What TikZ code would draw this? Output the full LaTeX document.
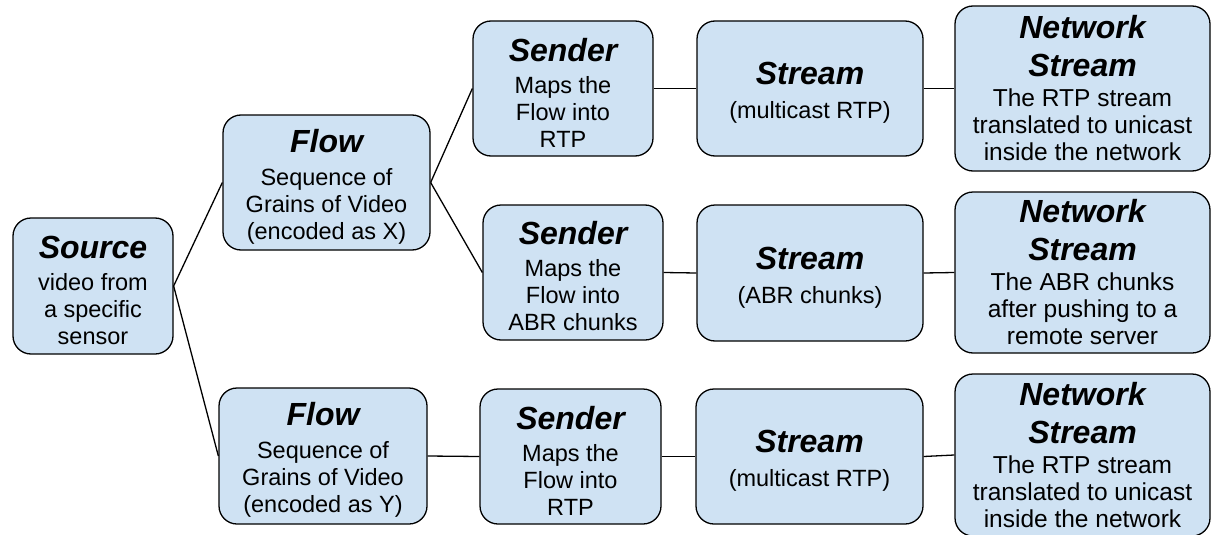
\documentclass[tikz,border=0pt]{standalone}
\usepackage{fontspec}
\setmainfont{Liberation Sans}
\definecolor{boxfill}{HTML}{CFE2F3}
\tikzset{
  box/.style={draw=black, line width=1.3pt, fill=boxfill, rounded corners=18pt,
    align=center, inner sep=0pt, font=\fontsize{23.5}{27}\selectfont},
  netbox/.style={box, font=\fontsize{24.5}{27}\selectfont},
  link/.style={draw=black, line width=1.3pt},
}
% bold italic heading; the strut keeps a little air above the first line
\newcommand{\ttl}[1]{{\fontsize{32}{36}\selectfont\bfseries\itshape\rule{0pt}{31pt}#1}}
\newcommand{\ttlb}[1]{{\fontsize{32}{36}\selectfont\bfseries\itshape #1}}
\begin{document}
\begin{tikzpicture}[x=1pt, y=-1pt]
\useasboundingbox (0,0) rectangle (1212,535);

% source
\node[box, minimum width=160pt, minimum height=136pt] (src) at (93,286)
  {\ttl{Source}\\[5pt] video from\\ a specific\\ sensor};

% flows
\node[box, minimum width=207pt, minimum height=135pt] (flow1) at (326.5,182.5)
  {\ttl{Flow}\\[6pt] Sequence of\\ Grains of Video\\ (encoded as X)};
\node[box, minimum width=208pt, minimum height=136pt] (flow2) at (323,456)
  {\ttl{Flow}\\[6pt] Sequence of\\ Grains of Video\\ (encoded as Y)};

% senders
\node[box, minimum width=180pt, minimum height=135pt] (snd1) at (563,88.5)
  {\ttl{Sender}\\[5pt] Maps the\\ Flow into\\ RTP};
\node[box, minimum width=180pt, minimum height=135pt] (snd2) at (573,272.5)
  {\ttl{Sender}\\[5pt] Maps the\\ Flow into\\ ABR chunks};
\node[box, minimum width=181pt, minimum height=135pt] (snd3) at (570.5,456.5)
  {\ttl{Sender}\\[5pt] Maps the\\ Flow into\\ RTP};

% streams
\node[box, minimum width=226pt, minimum height=135pt] (str1) at (810,88.5)
  {\ttl{Stream}\\[7pt] (multicast RTP)};
\node[box, minimum width=226pt, minimum height=136pt] (str2) at (810,273)
  {\ttl{Stream}\\[7pt] (ABR chunks)};
\node[box, minimum width=227pt, minimum height=135pt] (str3) at (809.5,456.5)
  {\ttl{Stream}\\[7pt] (multicast RTP)};

% network streams
\node[netbox, minimum width=255pt, minimum height=165pt] (ns1) at (1082.5,88.5)
  {\ttlb{Network}\\[11pt] \ttlb{Stream}\\[3pt] The RTP stream\\ translated to unicast\\ inside the network};
\node[netbox, minimum width=255pt, minimum height=161pt] (ns2) at (1082.5,272.5)
  {\ttlb{Network}\\[11pt] \ttlb{Stream}\\[3pt] The ABR chunks\\ after pushing to a\\ remote server};
\node[netbox, minimum width=255pt, minimum height=162pt] (ns3) at (1082.5,455)
  {\ttlb{Network}\\[11pt] \ttlb{Stream}\\[3pt] The RTP stream\\ translated to unicast\\ inside the network};

% connectors
\draw[link] (src.east) -- (flow1.west);
\draw[link] (src.east) -- (flow2.west);
\draw[link] (flow1.east) -- (snd1.west);
\draw[link] (flow1.east) -- (snd2.west);
\draw[link] (flow2.east) -- (snd3.west);
\draw[link] (snd1.east) -- (str1.west);
\draw[link] (snd2.east) -- (str2.west);
\draw[link] (snd3.east) -- (str3.west);
\draw[link] (str1.east) -- (ns1.west);
\draw[link] (str2.east) -- (ns2.west);
\draw[link] (str3.east) -- (ns3.west);
\end{tikzpicture}
\end{document}
